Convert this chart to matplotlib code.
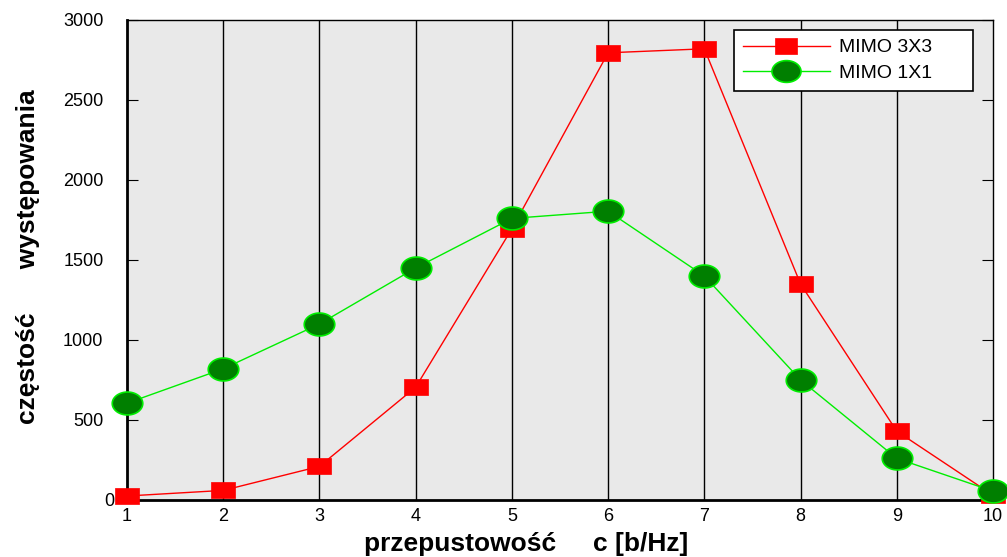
"""Histogram of channel capacity occurrences, MIMO 3X3 vs 1X1."""
import matplotlib
matplotlib.use("Agg")
import matplotlib.pyplot as plt  # noqa
import matplotlib.transforms as mtransforms
import numpy as np
from matplotlib.path import Path

capacity = [1, 2, 3, 4, 5, 6, 7, 8, 9, 10]
mimo_3x3 = [25, 60, 210, 705, 1695, 2795, 2820, 1350, 430, 30]
mimo_1x1 = [605, 820, 1100, 1450, 1760, 1805, 1400, 750, 260, 55]
y_ticks = [0, 500, 1000, 1500, 2000, 2500, 3000]

plt.rcParams["font.family"] = ["Liberation Sans", "DejaVu Sans"]

# flat rectangle and ellipse markers, like in the original plot
RECT = Path([(-1, -0.68), (1, -0.68), (1, 0.68), (-1, 0.68), (-1, -0.68)], closed=True)
t = np.linspace(0, 2 * np.pi, 60)
ELLIPSE = Path(np.column_stack([np.cos(t), 0.75 * np.sin(t)]), closed=True)

fig = plt.figure(figsize=(10.07, 5.57), dpi=100)
ax = fig.add_axes([127 / 1007, 57 / 557, 866 / 1007, 480 / 557])
ax.set_facecolor("#e9e9e9")

for x in capacity[1:-1]:
    ax.axvline(x, color="black", lw=1, zorder=1)

ax.plot(capacity, mimo_3x3, color="red", lw=1, marker=RECT, markersize=17,
        markerfacecolor="red", markeredgecolor="red", markeredgewidth=0.5,
        label="MIMO 3X3      ", zorder=3, clip_on=False)
ax.plot(capacity, mimo_1x1, color="#00ee00", lw=1, marker=ELLIPSE, markersize=22,
        markerfacecolor="#007f00", markeredgecolor="#00ee00", markeredgewidth=1.2,
        label="MIMO 1X1      ", zorder=4, clip_on=False)

ax.set_xlim(1, 10)
ax.set_ylim(0, 3000)
ax.set_xticks(capacity)
ax.set_yticks(y_ticks)
ax.tick_params(axis="y", direction="in", length=8, right=True, labelsize=13, pad=17)
ax.tick_params(axis="x", length=0, labelsize=13, pad=6)

# the "0" label sits closer to the axis in the original
zero_lbl = ax.get_yticklabels()[0]
zero_lbl.set_transform(zero_lbl.get_transform()
                       + mtransforms.ScaledTranslation(11 / 100, 0, fig.dpi_scale_trans))

for side in ["left", "bottom"]:
    ax.spines[side].set_linewidth(2)
for side in ["top", "right"]:
    ax.spines[side].set_linewidth(1)

ax.set_xlabel("przepustowość     c [b/Hz]", fontsize=19, fontweight="bold")
ax.xaxis.set_label_coords(0.461, -0.066)
ax.set_ylabel("częstość      występowania", fontsize=19, fontweight="bold")
ax.yaxis.set_label_coords(-0.1, 0.506)

leg = ax.legend(loc="upper right", bbox_to_anchor=(0.977, 0.979), borderaxespad=0,
                fontsize=14, frameon=True, fancybox=False, edgecolor="black",
                handlelength=4.5, borderpad=0.45, labelspacing=0.4, markerscale=0.95,
                handletextpad=0.45)
leg.get_frame().set_linewidth(1.2)
leg.get_frame().set_facecolor("white")
leg.get_frame().set_alpha(1)

fig.savefig("out.png", dpi=100)
